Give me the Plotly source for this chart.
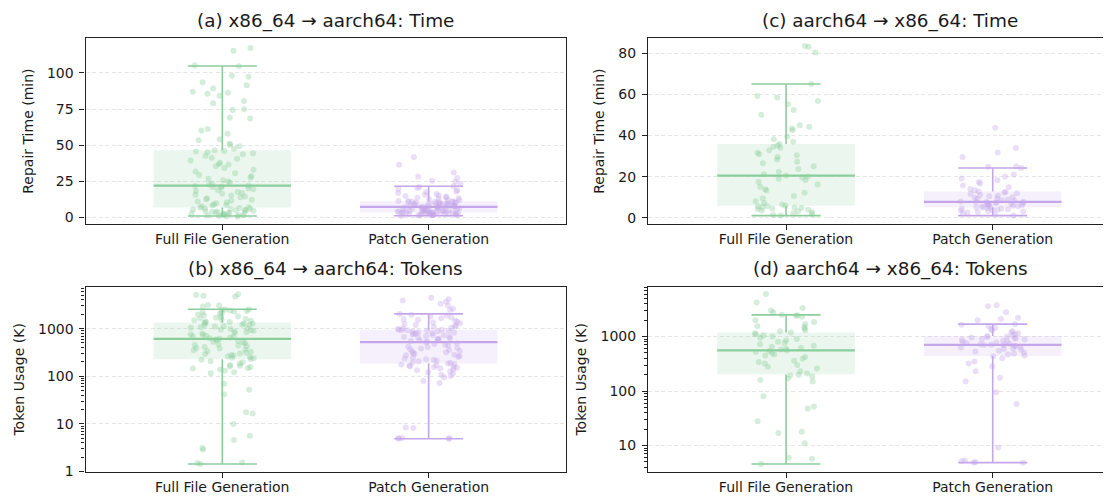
import math
import plotly.graph_objects as go

# ---------------- data ----------------
categories = ["Full File Generation", "Patch Generation"]

# (a) x86_64 -> aarch64: repair time (min)
a_full = [0.5, 0.8, 1.0, 1.2, 1.3, 1.6, 1.9, 2.1, 2.3, 2.6, 2.9, 3.0, 3.3, 3.4, 3.8, 4.1, 4.2, 4.6, 4.9, 5.0,
          5.3, 5.5, 5.7, 5.9, 6.1, 6.4, 6.7,
          7.0, 7.6, 8.2, 8.5, 9.1, 9.8, 10.4, 10.9, 11.5, 12.2, 12.6, 13.3, 13.9, 14.5, 15.2, 15.6, 16.4, 17.0,
          17.5, 18.3, 18.8, 19.4, 19.9, 20.5, 20.8, 21.3, 21.7, 22.0,
          22.6, 23.3, 24.1, 24.9, 25.6, 26.8, 27.5, 28.7, 29.3, 30.6, 31.8, 33.0, 34.2, 35.4, 36.5, 36.9, 37.8,
          39.4, 40.6, 41.3, 42.5, 43.6, 44.4, 45.1, 45.6, 46.0, 46.4,
          47.5, 49.3, 50.2, 50.9, 53.4, 54.1, 57.8, 60.2, 61.1, 68.5, 69.0, 74.3, 74.8, 78.9, 80.6, 84.1, 85.5,
          86.3, 87.0, 89.2, 91.4, 93.6, 97.3, 98.1, 104.6, 105.1, 115.3, 117.2]
a_patch = [1.1, 1.2, 1.4, 1.4, 1.5, 1.7, 1.8, 1.8, 2.0, 2.1, 2.1, 2.3, 2.4, 2.4, 2.6, 2.7, 2.7, 2.8, 2.9, 3.0,
           3.0, 3.1, 3.2, 3.2, 3.3, 3.3, 3.4,
           3.5, 3.6, 3.8, 3.9, 4.0, 4.2, 4.3, 4.4, 4.6, 4.7, 4.8, 5.0, 5.1, 5.3, 5.4, 5.6, 5.7, 5.9, 6.0, 6.2,
           6.3, 6.5, 6.6, 6.8, 6.9, 7.0, 7.1, 7.2,
           7.3, 7.5, 7.6, 7.8, 8.0, 8.1, 8.3, 8.5, 8.6, 8.8, 9.0, 9.1, 9.3, 9.5, 9.6, 9.8, 10.0, 10.1, 10.3,
           10.4, 10.6, 10.7, 10.8, 10.9, 11.0, 11.0, 11.1,
           11.4, 11.8, 12.1, 12.5, 12.9, 13.2, 13.6, 14.0, 14.3, 14.8, 15.1, 15.6, 16.2, 16.9, 17.5, 18.1, 18.8,
           19.6, 20.3, 21.0, 21.5, 23.2, 24.6, 25.4, 27.3, 28.1, 31.0, 36.4, 41.8]

# (b) x86_64 -> aarch64: token usage (K)
b_full = [1.44, 1.5, 1.55, 2.9, 3.1, 4.6, 5.6, 10, 16.5, 17.5, 42, 52, 70, 115, 122, 131, 138, 146, 150, 157,
          161, 166, 172, 186, 196, 207, 221,
          231, 239, 246, 256, 263, 272, 281, 292, 301, 313, 326, 336, 351, 366, 382, 394, 411, 426, 441, 456,
          472, 491, 512, 531, 549, 572, 591, 612,
          628, 652, 668, 693, 712, 733, 762, 788, 817, 842, 868, 903, 928, 962, 991, 1022, 1048, 1083, 1112,
          1138, 1172, 1203, 1228, 1262, 1288, 1321, 1350,
          1383, 1418, 1462, 1504, 1538, 1592, 1643, 1702, 1758, 1822, 1904, 1983, 2052, 2118, 2204, 2281, 2352,
          2418, 2483, 2521, 2560, 2920, 3050, 3120, 4750, 4920, 5150, 5300]
b_patch = [4.87, 4.95, 5.0, 5.0, 5.05, 8.2, 8.4, 72, 80, 95, 101, 108, 116, 122, 128, 134, 141, 146, 151, 154,
           159, 162, 167, 171, 176, 181, 185,
           191, 197, 206, 212, 221, 227, 237, 244, 256, 264, 276, 284, 297, 306, 319, 331, 341, 356, 367, 382,
           394, 411, 424, 441, 457, 476, 496, 518,
           536, 551, 565, 583, 597, 616, 631, 651, 667, 687, 703, 723, 739, 759, 775, 795, 811, 831, 847, 867,
           883, 899, 916, 927, 941, 948, 953,
           982, 1012, 1038, 1083, 1118, 1162, 1198, 1252, 1297, 1352, 1398, 1463, 1518, 1583, 1648, 1722, 1798,
           1883, 1958, 2040, 2450, 2610, 3050, 3320, 3650, 3920, 4150, 4450]

# (c) aarch64 -> x86_64: repair time (min)
c_full = [1.0, 1.3, 1.8, 2.2, 2.6, 3.1, 3.5, 3.8, 4.2, 4.5, 4.8, 5.0, 5.2, 5.4, 5.6, 5.8,
          6.4, 7.1, 8.0, 9.4, 10.6, 12.1, 13.2, 13.9, 15.0, 16.2, 17.4, 18.3, 18.9, 19.6, 20.1, 20.5,
          21.2, 22.4, 23.7, 25.0, 26.5, 27.2, 28.3, 29.5, 30.4, 30.9, 31.6, 32.8, 33.9, 34.6, 35.2, 35.9,
          37.0, 38.2, 39.5, 42.6, 43.4, 44.3, 45.0, 50.1, 52.4, 55.2, 56.8, 58.6, 59.3, 65.1, 80.5, 83.3, 83.6]
c_patch = [1.0, 1.5, 2.0, 2.5, 2.8, 3.0, 3.2, 3.5, 3.7, 3.9, 4.1, 4.3, 4.5, 4.7, 4.9, 5.0,
           5.2, 5.4, 5.6, 5.8, 6.0, 6.2, 6.4, 6.6, 6.8, 7.0, 7.1, 7.3, 7.4, 7.5, 7.6, 7.7,
           7.9, 8.2, 8.5, 8.8, 9.1, 9.4, 9.7, 10.0, 10.4, 10.8, 11.1, 11.5, 11.9, 12.2, 12.5, 12.8,
           13.3, 14.0, 14.8, 15.7, 16.6, 17.4, 18.2, 19.1, 20.0, 21.0, 24.2, 24.8, 25.1, 29.6, 31.8, 34.0, 43.8]

# (d) aarch64 -> x86_64: token usage (K)
d_full = [4.6, 5.7, 6.0, 11, 17, 18, 28, 48, 52, 80, 150, 160, 170, 185, 192, 200,
          210, 230, 260, 280, 300, 320, 340, 360, 390, 420, 450, 470, 500, 520, 540, 557,
          580, 600, 620, 650, 680, 720, 760, 800, 850, 900, 950, 1000, 1050, 1100, 1150, 1182,
          1250, 1300, 1400, 1500, 1550, 1700, 1850, 2000, 2300, 2400, 2450, 2500, 2750, 3000, 3350, 4200, 6000]
d_patch = [4.86, 4.9, 5.0, 5.2, 5.3, 9.2, 58, 95, 150, 175, 230, 285, 320, 350, 400, 435,
           450, 470, 490, 510, 530, 550, 570, 590, 610, 630, 650, 665, 680, 690, 700, 705,
           720, 740, 760, 780, 800, 820, 840, 860, 880, 900, 920, 940, 960, 980, 1000, 1025,
           1060, 1100, 1150, 1200, 1250, 1300, 1380, 1450, 1550, 1640, 1690, 2000, 2100, 2200, 2800, 3600, 3750]

# box statistics: [lower whisker, Q1, median, Q3, upper whisker]
a_full_stats = [0.9, 6.8, 22.0, 46.5, 104.8]
a_patch_stats = [1.1, 3.4, 7.2, 11.1, 21.5]
b_full_stats = [1.44, 228, 612, 1350, 2560]
b_patch_stats = [4.87, 186, 520, 953, 2040]
c_full_stats = [1.0, 5.8, 20.5, 35.9, 65.1]
c_patch_stats = [1.0, 5.0, 7.7, 12.8, 24.2]
d_full_stats = [4.6, 201, 557, 1182, 2500]
d_patch_stats = [4.86, 440, 705, 1025, 1690]

titles = ["(a) x86_64 \u2192 aarch64: Time", "(c) aarch64 \u2192 x86_64: Time",
          "(b) x86_64 \u2192 aarch64: Tokens", "(d) aarch64 \u2192 x86_64: Tokens"]
time_label = "Repair Time (min)"
token_label = "Token Usage (K)"

# ---------------- styling ----------------
W, H = 1111, 500
FONT = "DejaVu Sans"
TXT = "#1a1a1a"
LINE_COLORS = [(138, 206, 156), (197, 166, 234)]


def rgba(c, a):
    return "rgba(%d,%d,%d,%s)" % (c[0], c[1], c[2], a)


def jitter(i, seed):
    v = math.sin((i + 1) * 12.9898 + seed * 78.233) * 43758.5453
    f = v - math.floor(v)
    return (f - 0.5) * 2 * 0.155


BOX_HALF = 0.333
CAP_HALF = 0.167

panels = [
    ("", [a_full, a_patch], [a_full_stats, a_patch_stats], False),
    ("2", [c_full, c_patch], [c_full_stats, c_patch_stats], False),
    ("3", [b_full, b_patch], [b_full_stats, b_patch_stats], True),
    ("4", [d_full, d_patch], [d_full_stats, d_patch_stats], True),
]

fig = go.Figure()
seed = 0
for suffix, datas, statss, is_log in panels:
    xa, ya = "x" + suffix, "y" + suffix
    for ci, (vals, st) in enumerate(zip(datas, statss)):
        col = LINE_COLORS[ci]
        lo, q1, med, q3, hi = st
        fig.add_trace(go.Scatter(
            x=[ci - BOX_HALF, ci + BOX_HALF, ci + BOX_HALF, ci - BOX_HALF, ci - BOX_HALF],
            y=[q1, q1, q3, q3, q1], fill="toself", fillcolor=rgba(col, 0.17),
            mode="lines", line=dict(width=0), hoverinfo="skip", showlegend=False,
            xaxis=xa, yaxis=ya))
    for ci, vals in enumerate(datas):
        col = LINE_COLORS[ci]
        seed += 1
        xs = [ci + jitter(i, seed) for i in range(len(vals))]
        fig.add_trace(go.Scatter(
            x=xs, y=vals, mode="markers",
            marker=dict(size=6, color=rgba(col, 0.36), line=dict(width=0)),
            showlegend=False, xaxis=xa, yaxis=ya))
    for ci, st in enumerate(statss):
        col = LINE_COLORS[ci]
        lo, q1, med, q3, hi = st
        fig.add_trace(go.Scatter(
            x=[ci, ci, None, ci, ci], y=[lo, q1, None, q3, hi], mode="lines",
            line=dict(color=rgba(col, 1), width=1.6), hoverinfo="skip", showlegend=False,
            xaxis=xa, yaxis=ya))
        fig.add_trace(go.Scatter(
            x=[ci - CAP_HALF, ci + CAP_HALF, None, ci - CAP_HALF, ci + CAP_HALF],
            y=[lo, lo, None, hi, hi], mode="lines",
            line=dict(color=rgba(col, 1), width=1.6), hoverinfo="skip", showlegend=False,
            xaxis=xa, yaxis=ya))
        fig.add_trace(go.Scatter(
            x=[ci - BOX_HALF, ci + BOX_HALF], y=[med, med], mode="lines",
            line=dict(color=rgba(col, 1), width=2.2), hoverinfo="skip", showlegend=False,
            xaxis=xa, yaxis=ya))


def px_x(p):
    return p / W


def px_y(p):
    return 1 - p / H


LEFT_DOM = [px_x(77.5), px_x(557.9)]
RIGHT_DOM = [px_x(640.0), 1.0]
TOP_DOM = [px_y(219.3), px_y(30.5)]
BOT_DOM = [px_y(470.8), px_y(282.5)]

axis_common = dict(showline=True, linecolor="#222222", linewidth=1.1, ticks="outside",
                   ticklen=5, tickwidth=1.1, tickcolor="#222222", zeroline=False,
                   tickfont=dict(family=FONT, size=14, color=TXT))


def xaxis(domain, anchor, rng):
    d = dict(axis_common)
    d.update(domain=domain, anchor=anchor, range=rng, mirror=True, showgrid=False,
             tickmode="array", tickvals=[0, 1], ticktext=categories, ticklabelstandoff=-3)
    return d


minor_vals = [m * 10 ** k for k in range(0, 4) for m in range(2, 10)]


def yaxis(domain, anchor, rng, mirror, label, log, tickvals):
    d = dict(axis_common)
    d.update(domain=domain, anchor=anchor, range=rng, mirror=mirror, showgrid=True,
             gridcolor="#e6e6e6", griddash="4px,2.5px", gridwidth=0.9,
             tickmode="array", tickvals=tickvals, ticktext=[str(v) for v in tickvals],
             ticklabelstandoff=3,
             title=dict(text=label, font=dict(family=FONT, size=14, color=TXT), standoff=10))
    if log:
        d.update(type="log",
                 minor=dict(ticks="outside", ticklen=3, tickwidth=0.8, tickcolor="#222222",
                            tickmode="array", tickvals=minor_vals, showgrid=False))
    return d


fig.update_layout(
    width=W, height=H, margin=dict(l=0, r=0, t=0, b=0),
    paper_bgcolor="white", plot_bgcolor="white", showlegend=False,
    font=dict(family=FONT, color=TXT),
    xaxis=xaxis(LEFT_DOM, "y", [-0.663, 1.665]),
    yaxis=yaxis(TOP_DOM, "x", [-4.76, 124.1], True, time_label, False, [0, 25, 50, 75, 100]),
    xaxis2=xaxis(RIGHT_DOM, "y2", [-0.668, 1.611]),
    yaxis2=yaxis(TOP_DOM, "x2", [-3.2, 87.5], False, time_label, False, [0, 20, 40, 60, 80]),
    xaxis3=xaxis(LEFT_DOM, "y3", [-0.663, 1.665]),
    yaxis3=yaxis(BOT_DOM, "x3", [-0.015, 3.884], True, token_label, True, [1, 10, 100, 1000]),
    xaxis4=xaxis(RIGHT_DOM, "y4", [-0.668, 1.611]),
    yaxis4=yaxis(BOT_DOM, "x4", [0.511, 3.917], False, token_label, True, [10, 100, 1000]),
)

title_pos = [(317.7, 13.5), (882.0, 13.5), (317.7, 265.0), (882.0, 265.0)]
for t, (xp, yp) in zip(titles, title_pos):
    fig.add_annotation(text=t, x=px_x(xp), y=px_y(yp), xref="paper", yref="paper",
                       xanchor="center", yanchor="middle", showarrow=False,
                       font=dict(family=FONT, size=18.4, color=TXT))

fig.write_html("out.html")
